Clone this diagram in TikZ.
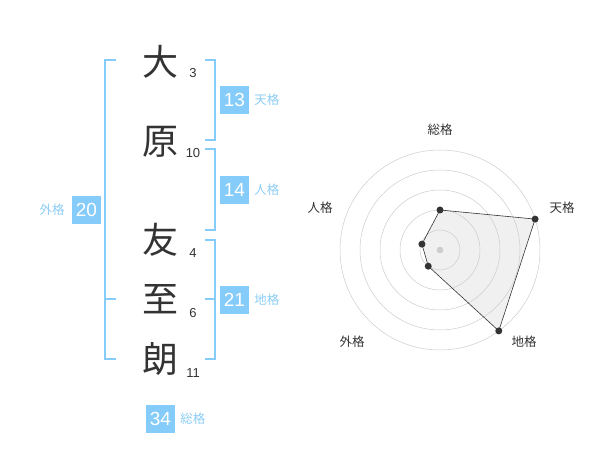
\documentclass[tikz,border=0pt]{standalone}
\usepackage{fontspec}
\usetikzlibrary{positioning}
\setmainfont{Liberation Sans}
\newfontfamily\jpfont{Noto Sans CJK JP}
\definecolor{bleu}{RGB}{134,204,250}
\definecolor{bleuclair}{RGB}{140,205,245}
\definecolor{encre}{RGB}{51,51,51}
\tikzset{
  kanji/.style={font=\jpfont\fontsize{36}{36}\selectfont, text=encre, inner sep=0pt},
  trait/.style={font=\fontsize{13}{13}\selectfont, text=encre, inner sep=0pt},
  score/.style={fill=bleu, text=white, minimum width=29pt, minimum height=28pt, inner sep=0pt, font=\fontsize{19}{19}\selectfont},
  nomkaku/.style={font=\jpfont\fontsize{12.5}{12.5}\selectfont, text=bleuclair, inner sep=0pt},
  axe/.style={font=\jpfont\fontsize{12.5}{12.5}\selectfont, text=encre, inner sep=0pt},
  crochet/.style={draw=bleu, line width=1.6pt},
  anneau/.style={draw=black!20, line width=0.5pt},
  sommet/.style={fill=encre, circle, inner sep=0pt, minimum size=7pt}
}
\begin{document}
\begin{tikzpicture}[x=1pt, y=-1pt]
\useasboundingbox (0,0) rectangle (600,470);

% Caracteres du nom
\node[kanji] (k1) at (160,62) {大};
\node[kanji] (k2) at (160,142) {原};
\node[kanji] (k3) at (160,240) {友};
\node[kanji] (k4) at (160,299) {至};
\node[kanji] (k5) at (160,359) {朗};

% Nombres de traits
\node[trait] (t1) at (193,73) {3};
\node[trait] (t2) at (193,153) {10};
\node[trait] (t3) at (193,253) {4};
\node[trait] (t4) at (193,313) {6};
\node[trait] (t5) at (193,373) {11};

% Crochets
\draw[crochet] (116,60) -- (105,60) -- (105,359) -- (116,359);
\draw[crochet] (105,299) -- (116,299);
\draw[crochet] (205,60) -- (215,60) -- (215,140) -- (205,140);
\draw[crochet] (205,149) -- (215,149) -- (215,230) -- (205,230);
\draw[crochet] (205,240) -- (215,240) -- (215,359) -- (205,359);
\draw[crochet] (205,299) -- (215,299);

% Scores
\node[score] (ten) at (234.5,100) {13};
\node[nomkaku, right=5pt of ten] (lten) {天格};
\node[score] (jin) at (234.5,190) {14};
\node[nomkaku, right=5pt of jin] (ljin) {人格};
\node[score] (chi) at (234.5,300) {21};
\node[nomkaku, right=5pt of chi] (lchi) {地格};
\node[score] (gai) at (86.5,210) {20};
\node[nomkaku, left=7pt of gai] (lgai) {外格};
\node[score] (sou) at (160.5,419) {34};
\node[nomkaku, right=5pt of sou] (lsou) {総格};

% Radar
\begin{scope}[shift={(440,250)}, x=1pt, y=1pt]
\coordinate (rsou) at (90:40);
\coordinate (rten) at (18:100);
\coordinate (rchi) at (-54:100);
\coordinate (rgai) at (234:20);
\coordinate (rjin) at (162:19);
\fill[black!6] (rsou) -- (rten) -- (rchi) -- (rgai) -- (rjin) -- cycle;
\foreach \r in {20,40,...,100}
  \draw[anneau] (0,0) circle (\r);
\fill[black!20] (0,0) circle (3.3);
\draw[encre, line width=0.6pt] (rsou) -- (rten) -- (rchi) -- (rgai) -- (rjin) -- cycle;
\foreach \p in {rsou,rten,rchi,rgai,rjin}
  \node[sommet] at (\p) {};
\end{scope}

% Noms des axes
\node[axe] (asou) at (440,130) {総格};
\node[axe] (aten) at (562,208) {天格};
\node[axe] (ajin) at (320,208) {人格};
\node[axe] (agai) at (352,342) {外格};
\node[axe] (achi) at (524,342) {地格};

\end{tikzpicture}
\end{document}
